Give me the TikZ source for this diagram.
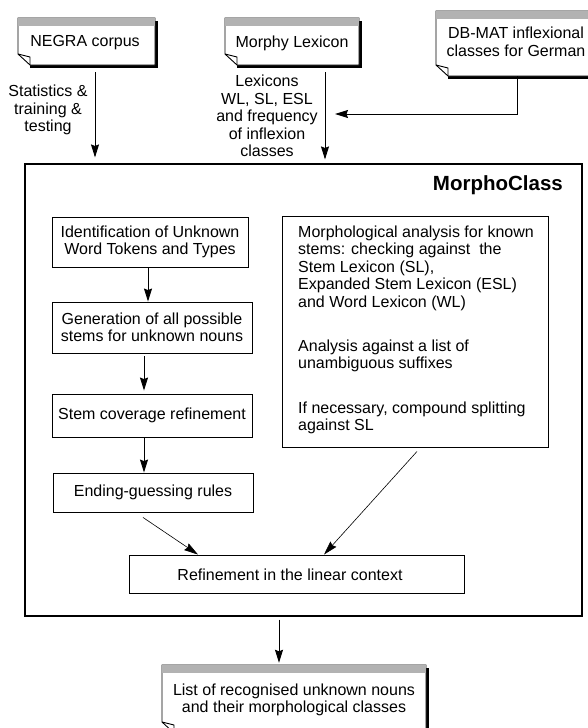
\documentclass[tikz,border=0pt]{standalone}
\usepackage{fontspec}
\setmainfont{Liberation Sans}
\usetikzlibrary{arrows.meta}
\tikzset{
  box/.style={draw, line width=0.9pt, inner sep=0pt, align=center},
  lbl/.style={inner sep=0pt, align=center},
  para/.style={inner sep=0pt, align=left, anchor=west},
  arr/.style={-{Stealth[length=13pt,width=8pt,inset=1.5pt]}, line width=0.9pt},
  darr/.style={-{Stealth[length=14pt,width=8pt,inset=1.5pt]}, line width=0.6pt},
}
% document shape: #1 name, #2 x0, #3 y0, #4 x1, #5 y1
\newcommand\mydoc[5]{%
  \fill[black] (#4,#3+3) rectangle (#4+3,#5+3);
  \fill[black] (#2+12,#5) rectangle (#4+3,#5+3);
  \draw[line width=0.9pt, fill=white] (#2,#3) -- (#4,#3) -- (#4,#5) -- (#2+12,#5) -- (#2,#5-11) -- cycle;
  \fill[black!30] (#2+0.45,#3+0.45) rectangle (#4-0.45,#3+8);
  \draw[line width=0.9pt] (#2,#5-11) -- (#2+12,#5-8) -- (#2+12,#5);
  \node[inner sep=0pt, minimum width={#4-#2}, minimum height={#5-#3}] (#1) at ({(#2+#4)/2},{(#3+#5)/2}) {};
}
\begin{document}
\begin{tikzpicture}[x=1pt,y=-1pt, font=\fontsize{16}{17.5}\selectfont]
\useasboundingbox (0,0) rectangle (587,728);

% source documents
\mydoc{negra}{18}{18}{155}{65}
\node[lbl] (negra-t) at (85,43) {NEGRA corpus};
\mydoc{morphy}{225}{18}{359}{65}
\node[lbl] (morphy-t) at (292,43) {Morphy Lexicon};
\mydoc{dbmat}{436}{11}{597}{76}
\node[lbl] (dbmat-t) at (516,42) {DB-MAT inflexional\\classes for German};

% big box
\node[draw, line width=1.1pt, inner sep=0pt, minimum width=557, minimum height=452] (morpho) at (303.5,390) {};
\node[inner sep=0pt, anchor=east, font=\bfseries\fontsize{20.5}{22}\selectfont] (title) at (563,185) {MorphoClass};

% labels on input arrows
\node[lbl] (stat) at (48,110) {Statistics \&\\training \&\\testing};
\node[lbl] (lexl) at (267,116) {Lexicons\\WL, SL, ESL\\and frequency\\of inflexion\\classes};

% left column
\node[box, minimum width=196, minimum height=50] (ident) at (150,242) {Identification of Unknown\\Word Tokens and Types};
\node[box, minimum width=200, minimum height=51] (gen) at (152,327.5) {Generation of all possible\\stems for unknown nouns};
\node[box, minimum width=200, minimum height=43] (stem) at (152,415.5) {Stem coverage refinement};
\node[box, minimum width=200, minimum height=39] (ending) at (153,492.5) {Ending-guessing rules};

% right box
\node[box, minimum width=266, minimum height=231] (right) at (415,331.5) {};
\node[para] (p1) at (298,268) {Morphological analysis for known\\stems: checking against~ the\\Stem Lexicon (SL),\\Expanded Stem Lexicon (ESL)\\and Word Lexicon (WL)};
\node[para] (p2) at (298,356) {Analysis against a list of\\unambiguous suffixes};
\node[para] (p3) at (298,418) {If necessary, compound splitting\\against SL};

% refinement
\node[box, minimum width=335, minimum height=38] (refine) at (296.5,574) {};
\node[lbl] (refine-t) at (290,575) {Refinement in the linear context};

% output document
\mydoc{output}{162}{665}{426}{733}
\node[lbl] (output-t) at (294,700) {List of recognised unknown nouns\\and their morphological classes};

% x positions of connectors
\coordinate (xN) at (95,0);
\coordinate (xM) at (325,0);
\coordinate (xD) at (517,0);
\coordinate (join) at (335,114);
\coordinate (c1) at (148,0);
\coordinate (c2) at (144,0);
\coordinate (s1) at (143,0);
\coordinate (t1) at (198,0);
\coordinate (s2) at (417,0);
\coordinate (t2) at (324,0);
\coordinate (xO) at (279,0);

% connectors
\draw[arr, shorten <=7pt, shorten >=6pt] (negra.south -| xN) -- (morpho.north -| xN);
\draw[arr, shorten <=7pt, shorten >=4pt] (morphy.south -| xM) -- (morpho.north -| xM);
\draw[arr] (dbmat.south -| xD) |- (join);
\draw[arr] (ident.south -| c1) -- (gen.north -| c1);
\draw[arr, shorten <=3pt, shorten >=3pt] (gen.south -| c2) -- (stem.north -| c2);
\draw[arr] (stem.south -| c2) -- (ending.north -| c2);
\draw[darr] ([yshift=-5pt]ending.south -| s1) -- (refine.north -| t1);
\draw[darr] ([yshift=-4pt]right.south -| s2) -- (refine.north -| t2);
\draw[arr, shorten <=3pt, shorten >=2pt] (morpho.south -| xO) -- (output.north -| xO);
\end{tikzpicture}
\end{document}
